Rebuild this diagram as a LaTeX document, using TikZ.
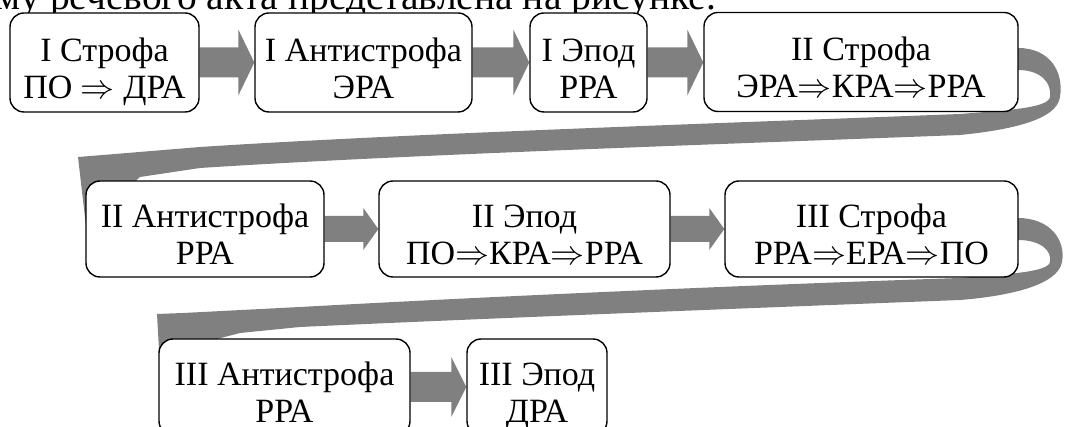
\RequirePackage{fix-cm}
\documentclass[tikz,border=0pt]{standalone}
\usepackage{fontspec}
\setmainfont{Liberation Serif}
\usetikzlibrary{calc,backgrounds}
\definecolor{arrowgray}{HTML}{808080}
\newcommand{\toplinestrut}{\rule{0pt}{44pt}}
\newcommand{\botlinestrut}{\rule[-9pt]{0pt}{9pt}}
\tikzset{
  stage/.style={draw=black, line width=1.4pt, rounded corners=14pt, fill=white,
    inner sep=0pt, align=center, font=\fontsize{34}{37}\selectfont},
  bigarrow/.style={fill=arrowgray, draw=none},
}
% #1 from node, #2 to node, #3 shaft half height, #4 head half height, #5 head length
\newcommand{\blockarr}[5]{%
  \fill[arrowgray] ($(#1.east)+(0,-#3)$) -- ($(#2.west |- #1.east)+(-#5,-#3)$)
    -- ($(#2.west |- #1.east)+(-#5,-#4)$) -- (#2.west |- #1.east)
    -- ($(#2.west |- #1.east)+(-#5,#4)$) -- ($(#2.west |- #1.east)+(-#5,#3)$)
    -- ($(#1.east)+(0,#3)$) -- cycle;}
\newcommand{\ra}{$\Rightarrow$}
\begin{document}
\begin{tikzpicture}[x=1pt,y=-1pt]
\useasboundingbox (0,0) rectangle (1066,427);
\clip (0,0) rectangle (1066,427);

\node[anchor=base east, inner sep=0pt, font=\fontsize{39.5}{42}\selectfont] (intro) at (716,10)
  {ому речевого акта представлена на рисунке.};

% row 1
\node[stage, minimum width=189pt, minimum height=99pt] (b1) at (104.5,62.5) {\toplinestrut I Строфа\\ПО \ra{} ДРА\botlinestrut};
\node[stage, minimum width=217pt, minimum height=99pt] (b2) at (363.5,62.5) {\toplinestrut I Антистрофа\\ЭРА\botlinestrut};
\node[stage, minimum width=117pt, minimum height=99pt] (b3) at (588.5,62.5) {\toplinestrut I Эпод\\РРА\botlinestrut};
\node[stage, minimum width=314pt, minimum height=99pt] (b4) at (861,62) {\toplinestrut II Строфа\\ЭРА\ra КРА\ra РРА\botlinestrut};
% row 2
\node[stage, minimum width=238pt, minimum height=96pt] (b5) at (205,229) {\toplinestrut II Антистрофа\\РРА\botlinestrut};
\node[stage, minimum width=291pt, minimum height=96pt] (b6) at (524.5,229) {\toplinestrut II Эпод\\ПО\ra КРА\ra РРА\botlinestrut};
\node[stage, minimum width=293pt, minimum height=96pt] (b7) at (871.5,229) {\toplinestrut III Строфа\\РРА\ra ЕРА\ra ПО\botlinestrut};
% row 3
\node[stage, minimum width=251pt, minimum height=96pt] (b8) at (284.5,387) {\toplinestrut III Антистрофа\\РРА\botlinestrut};
\node[stage, minimum width=140pt, minimum height=96pt] (b9) at (537,387) {\toplinestrut III Эпод\\ДРА\botlinestrut};

\begin{scope}[on background layer]
  \blockarr{b1}{b2}{15}{33}{16}
  \blockarr{b2}{b3}{15}{33}{16}
  \blockarr{b3}{b4}{15}{33}{16}
  \blockarr{b5}{b6}{13}{21}{15}
  \blockarr{b6}{b7}{13}{21}{15}
  \blockarr{b8}{b9}{15}{30}{15}

  % curved arrow from b4 to b5
  \fill[bigarrow] (1018,48) .. controls (1050,48) and (1064,72) .. (1060,97)
    .. controls (1057,120) and (1010,130) .. (960,135)
    .. controls (700,145) and (400,155) .. (200,168)
    -- (140,177) -- (86,226) -- (78,157) -- (103,155) -- (200,147)
    .. controls (400,134) and (700,124) .. (960,114)
    .. controls (1010,110) and (1048,108) .. (1050,97)
    .. controls (1052,82) and (1040,70) .. (1018,70) -- cycle;

  % curved arrow from b7 to b8
  \fill[bigarrow] (1018,218) .. controls (1050,218) and (1066,240) .. (1062,262)
    .. controls (1058,285) and (1010,296) .. (960,300)
    .. controls (700,310) and (450,320) .. (300,327)
    -- (240,333) -- (213,340) -- (161,385) -- (157,314) -- (183,313) -- (300,307)
    .. controls (500,296) and (750,285) .. (960,278)
    .. controls (1010,274) and (1048,272) .. (1050,262)
    .. controls (1052,250) and (1040,240) .. (1018,240) -- cycle;
\end{scope}
\end{tikzpicture}
\end{document}
